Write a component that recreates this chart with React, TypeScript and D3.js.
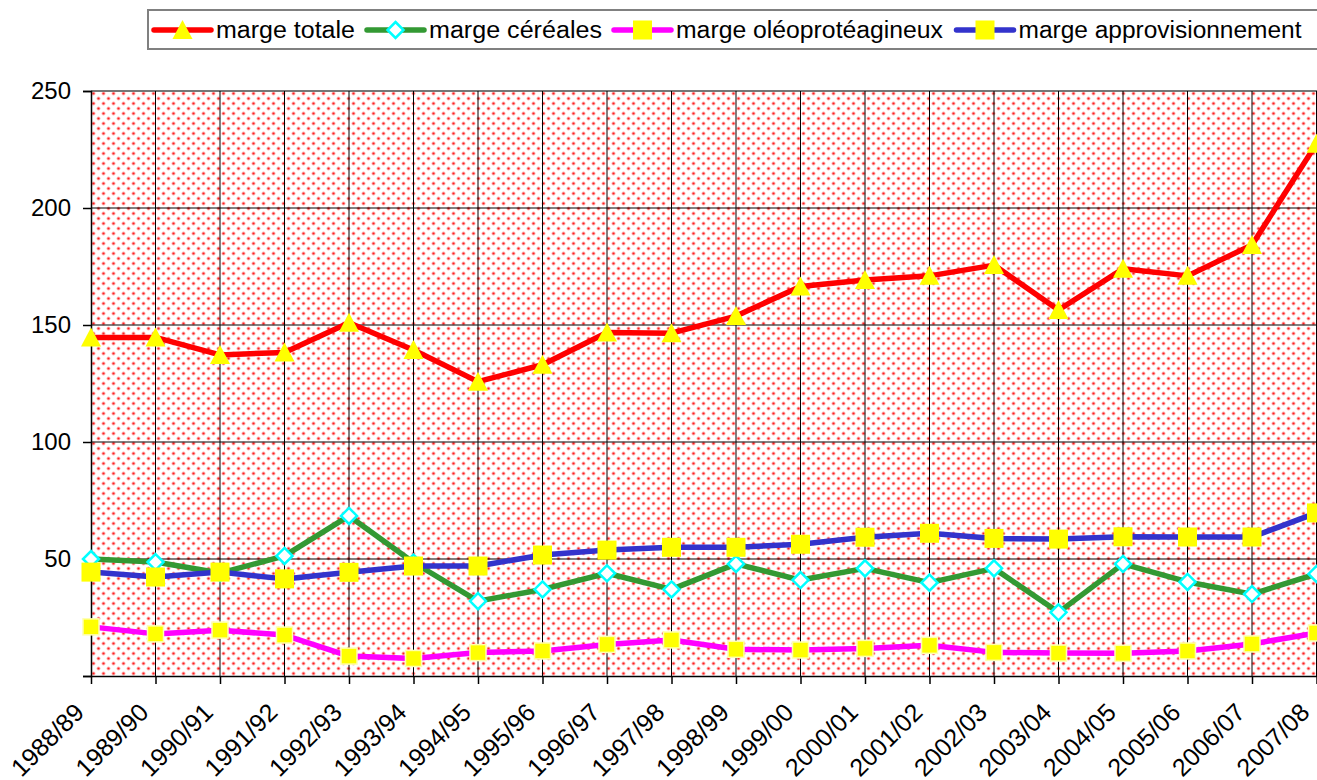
import React, { useRef, useEffect } from 'react';
import * as d3 from 'd3';

// campaign years (x axis)
const years = [
  '1988/89', '1989/90', '1990/91', '1991/92', '1992/93', '1993/94', '1994/95',
  '1995/96', '1996/97', '1997/98', '1998/99', '1999/00', '2000/01', '2001/02',
  '2002/03', '2003/04', '2004/05', '2005/06', '2006/07', '2007/08',
];

// series values
const margeTotale = [144.7, 144.7, 137.2, 138.3, 151, 139.3, 125.8, 133, 146.8, 146.5, 153.8, 166.5, 169.2, 171, 175.6, 156.4, 174, 171, 184.2, 227.5];
const margeCereales = [50, 48.7, 44, 51.3, 68.4, 48.5, 32, 37, 43.9, 37, 47.9, 41, 46, 39.9, 46, 27.2, 47.9, 40.2, 35, 43.6];
const margeOleo = [21, 18, 19.6, 17.5, 8.5, 7.5, 10, 10.7, 13.5, 15.4, 11.4, 11.1, 11.8, 13.1, 10.1, 9.8, 9.7, 10.7, 13.7, 18.4];
const margeAppro = [44.4, 42.3, 44.4, 41.5, 44.3, 47, 47, 51.7, 53.8, 55, 55, 56.3, 59.3, 61, 58.8, 58.5, 59.5, 59.4, 59.4, 69.7];

const seriesNames = ['marge totale', 'marge céréales', 'marge oléoprotéagineux', 'marge approvisionnement'];
const yTicks = [0, 50, 100, 150, 200, 250];

const FONT = '"Liberation Sans", Arial, sans-serif';

const App = () => {
  const ref = useRef<SVGSVGElement>(null);

  useEffect(() => {
    const width = 1317;
    const height = 780;
    const plot = { left: 91, top: 91, right: 1316.5, bottom: 676 };

    const svg = d3.select(ref.current);
    svg.selectAll('*').remove();
    svg.attr('width', width).attr('height', height);

    //background dotted pattern
    const defs = svg.append('defs');
    const pat = defs.append('pattern')
      .attr('id', 'dots')
      .attr('patternUnits', 'userSpaceOnUse')
      .attr('x', plot.left)
      .attr('y', plot.top)
      .attr('width', 10)
      .attr('height', 10);
    pat.append('rect').attr('width', 10).attr('height', 10).attr('fill', '#fff');
    [[2.5, 2.5], [7.5, 7.5]].forEach(([cx, cy]) => {
      pat.append('circle').attr('cx', cx).attr('cy', cy).attr('r', 2).attr('fill', '#ffb3b3');
      pat.append('circle').attr('cx', cx).attr('cy', cy).attr('r', 1.1).attr('fill', '#ff2020');
    });

    const x = d3.scalePoint<string>()
      .domain(years)
      .range([plot.left, plot.right]);

    const y = d3.scaleLinear()
      .domain([0, 250])
      .range([plot.bottom, plot.top]);

    svg.append('rect')
      .attr('x', plot.left)
      .attr('y', plot.top)
      .attr('width', plot.right - plot.left + 2)
      .attr('height', plot.bottom - plot.top)
      .attr('fill', 'url(#dots)');

    //gridlines
    const grid = svg.append('g').attr('stroke', '#000').attr('stroke-width', 1);
    yTicks.filter(t => t > 0).forEach(t => {
      grid.append('line')
        .attr('x1', plot.left).attr('x2', width)
        .attr('y1', y(t)).attr('y2', y(t))
        .attr('stroke', t === 250 ? '#777' : '#000')
        .attr('stroke-width', t === 250 ? 2 : 1);
    });
    years.slice(1).forEach(yr => {
      grid.append('line')
        .attr('x1', x(yr)!).attr('x2', x(yr)!)
        .attr('y1', plot.top).attr('y2', plot.bottom);
    });

    //y axis
    const yAxis = svg.append('g')
      .attr('transform', `translate(${plot.left},0)`)
      .call(d3.axisLeft(y).tickValues(yTicks).tickSize(8).tickFormat(d => (d === 0 ? '' : String(d))));
    yAxis.select('.domain').attr('stroke', '#000').attr('stroke-width', 1.5);
    yAxis.selectAll('line').attr('stroke', '#000').attr('stroke-width', 1.5);
    yAxis.selectAll('text')
      .attr('x', -20)
      .style('font-family', FONT)
      .style('font-size', '24px')
      .style('fill', '#000');

    //x axis
    const xAxis = svg.append('g')
      .attr('transform', `translate(0,${plot.bottom})`)
      .call(d3.axisBottom(x).tickSize(8).tickSizeOuter(0));
    xAxis.select('.domain').attr('stroke', '#000').attr('stroke-width', 1.5);
    xAxis.selectAll('line').attr('stroke', '#000').attr('stroke-width', 1.5);
    xAxis.selectAll('text')
      .attr('x', 0)
      .attr('y', 0)
      .attr('dy', 0)
      .attr('transform', 'translate(-6,38) rotate(-45)')
      .style('text-anchor', 'end')
      .style('font-family', FONT)
      .style('font-size', '25px')
      .style('fill', '#000');

    const series = [
      { name: seriesNames[0], values: margeTotale, color: '#ff0000', marker: 'triangle' },
      { name: seriesNames[1], values: margeCereales, color: '#339933', marker: 'diamond' },
      { name: seriesNames[2], values: margeOleo, color: '#ff00ff', marker: 'smallSquare' },
      { name: seriesNames[3], values: margeAppro, color: '#3333cc', marker: 'square' },
    ];

    const line = d3.line<number>()
      .x((_, i) => x(years[i])!)
      .y(d => y(d));

    //draws one marker shape at (cx, cy)
    const drawMarker = (g, kind, cx, cy) => {
      if (kind === 'triangle') {
        g.append('path')
          .attr('d', `M${cx},${cy - 10} L${cx + 10},${cy + 9} L${cx - 10},${cy + 9} Z`)
          .attr('fill', '#ffff00');
      } else if (kind === 'diamond') {
        g.append('path')
          .attr('d', `M${cx},${cy - 8} L${cx + 8},${cy} L${cx},${cy + 8} L${cx - 8},${cy} Z`)
          .attr('fill', '#fff')
          .attr('stroke', '#00ffff')
          .attr('stroke-width', 2.5);
      } else if (kind === 'square') {
        g.append('rect')
          .attr('x', cx - 9.5).attr('y', cy - 9.5)
          .attr('width', 19).attr('height', 19)
          .attr('fill', '#ffff00');
      } else {
        g.append('rect')
          .attr('x', cx - 8).attr('y', cy - 8)
          .attr('width', 16).attr('height', 16)
          .attr('fill', '#ffff00')
          .attr('stroke', '#ffffb0')
          .attr('stroke-width', 1.5);
      }
    };

    series.forEach(s => {
      const g = svg.append('g');
      g.append('path')
        .datum(s.values)
        .attr('d', line)
        .attr('fill', 'none')
        .attr('stroke', s.color)
        .attr('stroke-width', 5.5)
        .attr('stroke-linejoin', 'round');
      s.values.forEach((v, i) => drawMarker(g, s.marker, x(years[i])!, y(v)));
    });

    //legend
    const legend = svg.append('g');
    legend.append('rect')
      .attr('x', 148).attr('y', 10)
      .attr('width', 1200).attr('height', 39)
      .attr('fill', '#fff')
      .attr('stroke', '#808080')
      .attr('stroke-width', 2);

    const legendX = [154, 367, 614, 956.5];
    const legendTextW = [139, 173, 267, 283];
    series.forEach((s, i) => {
      const lx = legendX[i];
      const gi = legend.append('g');
      gi.append('line')
        .attr('x1', lx).attr('x2', lx + 57)
        .attr('y1', 30).attr('y2', 30)
        .attr('stroke', s.color)
        .attr('stroke-width', 5.5)
        .attr('stroke-linecap', 'round');
      drawMarker(gi, s.marker === 'smallSquare' ? 'square' : s.marker, lx + 28.5, 30);
      gi.append('text')
        .attr('x', lx + 62)
        .attr('y', 38)
        .attr('textLength', legendTextW[i])
        .attr('lengthAdjust', 'spacingAndGlyphs')
        .style('font-family', FONT)
        .style('font-size', '23px')
        .style('fill', '#000')
        .text(s.name);
    });
  }, []);

  return (
    <svg ref={ref} style={{ position: 'absolute', left: 0, top: 0, background: '#fff' }}></svg>
  );
};

export default App;
